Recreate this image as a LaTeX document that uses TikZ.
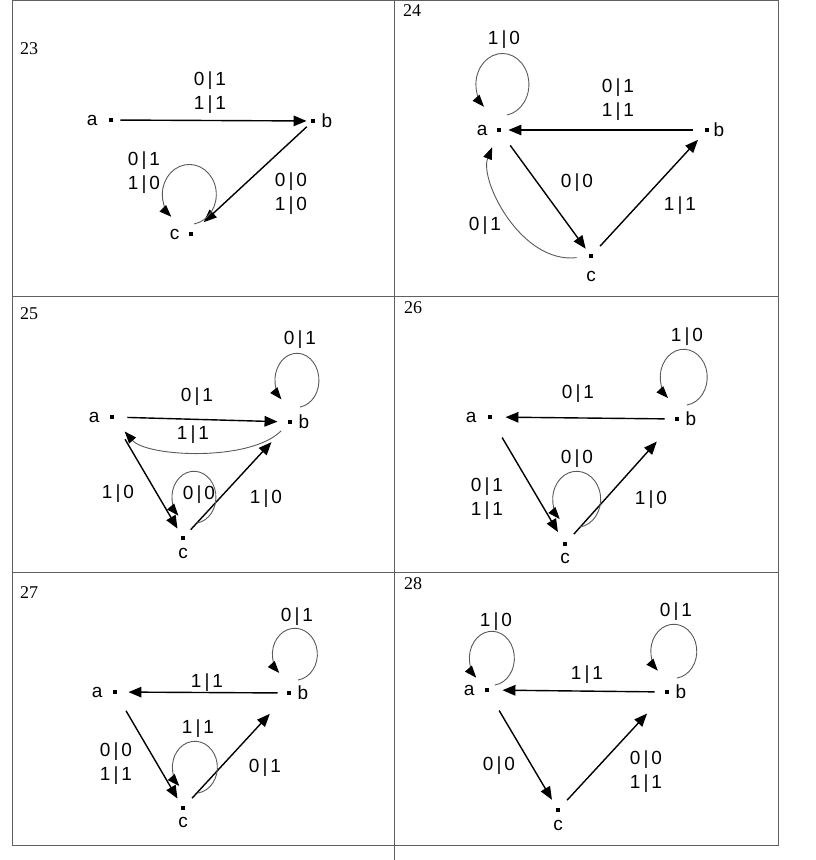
\documentclass[tikz,border=0pt]{standalone}
\usepackage{fontspec}
\setmainfont{Liberation Serif}
\newfontfamily\arialfont{Liberation Sans}[LetterSpace=16]
\newfontfamily\vertfont{Liberation Sans}
\usetikzlibrary{arrows.meta}

\tikzset{
	vert/.style={fill=black, minimum size=4.5pt, inner sep=0pt},
	vname/.style={font=\vertfont\fontsize{19}{21}\selectfont, inner sep=1pt},
	tlab/.style={font=\arialfont\fontsize{19}{24}\selectfont, align=center, inner sep=0pt},
	cellno/.style={font=\fontsize{18}{20}\selectfont, anchor=west, inner sep=0pt},
	trans/.style={line width=1.4pt, -{Triangle[length=13pt,width=10.5pt]}},
	thinarr/.style={gray!70!black, line width=0.9pt, -{Triangle[length=12pt,width=9pt,color=black]}},
	tabline/.style={gray!75!black, line width=0.9pt}
}

\begin{document}
\begin{tikzpicture}[x=1pt, y=-1pt]
	\useasboundingbox (0,0) rectangle (816,860);
	% table
	\draw[tabline] (12,0.5) rectangle (778,845);
	\draw[tabline] (394,0.5) -- (394,860);
	\draw[tabline] (12,296) -- (778,296);
	\draw[tabline] (12,572) -- (778,572);

	% 23
	\node[cellno] (n23) at (20,49) {23};
	\node[vert, label={[vname, label distance=10pt]left:a}] (a23) at (111,120) {};
	\node[vert, label={[vname, label distance=5pt]right:b}] (b23) at (313,121) {};
	\node[vert, label={[vname, label distance=8pt]left:c}] (c23) at (191,234) {};
	\draw[trans, shorten <=7pt, shorten >=4pt] (a23) -- (b23);
	\draw[trans, shorten <=5pt, shorten >=14pt] (b23) -- (c23);
	\draw[thinarr] ([shift={(3,-10)}]c23.center) arc[start angle=80, end angle=-228, x radius=27, y radius=30];
	\node[tlab] (l23ab) at (210,93) {0|1\\1|1};
	\node[tlab] (l23bc) at (291,194) {0|0\\1|0};
	\node[tlab] (l23cc) at (144,173) {0|1\\1|0};

	% 24
	\node[cellno] (n24) at (403,11) {24};
	\node[vert, label={[vname, label distance=8pt]left:a}] (a24) at (499,130) {};
	\node[vert, label={[vname, label distance=3pt]right:b}] (b24) at (707,130) {};
	\node[vert, label={[vname, label distance=12pt]below:c}] (c24) at (591,256) {};
	\draw[trans, shorten <=12pt, shorten >=7pt] (b24) -- (a24);
	\draw[trans, shorten <=16pt, shorten >=6pt] (a24) -- (c24);
	\draw[trans, shorten <=10pt, shorten >=10pt] (c24) -- (b24);
	\draw[thinarr, shorten <=12pt, shorten >=16pt] (c24) .. controls +(-70,8) and +(-20,50) .. (a24);
	\draw[thinarr] ([shift={(8,-15)}]a24.center) arc[start angle=80, end angle=-226, x radius=26.5, y radius=31];
	\node[tlab] (l24ba) at (618,100) {0|1\\1|1};
	\node[tlab] (l24ac) at (577,183) {0|0};
	\node[tlab] (l24cb) at (680,206) {1|1};
	\node[tlab] (l24ca) at (485,226) {0|1};
	\node[tlab] (l24aa) at (504,40) {1|0};

	% 25
	\node[cellno] (n25) at (20,314) {25};
	\node[vert, label={[vname, label distance=9pt]left:a}] (a25) at (112,417) {};
	\node[vert, label={[vname, label distance=5pt]right:b}] (b25) at (290,422) {};
	\node[vert, label={[vname, label distance=7pt]below:c}] (c25) at (183,538) {};
	\draw[trans, shorten <=13pt, shorten >=10pt] (a25) -- (b25);
	\draw[thinarr, shorten <=9pt, shorten >=16pt] (b25) .. controls +(-40,40) and +(35,40) .. (a25);
	\draw[trans, shorten <=23pt, shorten >=8pt] (a25) -- (c25);
	\draw[trans, shorten <=8pt, shorten >=24pt] (c25) -- (b25);
	\draw[thinarr] ([shift={(14,-15)}]c25.center) arc[start angle=82, end angle=-225, x radius=22, y radius=26];
	\draw[thinarr] ([shift={(10,-15)}]b25.center) arc[start angle=82, end angle=-225, x radius=22, y radius=27];
	\node[tlab] (l25ab) at (197,397) {0|1};
	\node[tlab] (l25ba) at (193,435) {1|1};
	\node[tlab] (l25ac) at (118,494) {1|0};
	\node[tlab] (l25cb) at (266,499) {1|0};
	\node[tlab] (l25cc) at (199,495) {0|0};
	\node[tlab] (l25bb) at (300,340) {0|1};

	% 26
	\node[cellno] (n26) at (404,308) {26};
	\node[vert, label={[vname, label distance=10pt]left:a}] (a26) at (490,417) {};
	\node[vert, label={[vname, label distance=5pt]right:b}] (b26) at (677,419) {};
	\node[vert, label={[vname, label distance=6pt]below:c}] (c26) at (565,544) {};
	\draw[trans, shorten <=10pt, shorten >=13pt] (b26) -- (a26);
	\draw[trans, shorten <=21pt, shorten >=11pt] (a26) -- (c26);
	\draw[trans, shorten <=10pt, shorten >=27pt] (c26) -- (b26);
	\draw[thinarr] ([shift={(15,-17)}]c26.center) arc[start angle=82, end angle=-225, x radius=24, y radius=28];
	\draw[thinarr] ([shift={(10,-14)}]b26.center) arc[start angle=82, end angle=-228, x radius=23.5, y radius=28];
	\node[tlab] (l26ba) at (578,394) {0|1};
	\node[tlab] (l26ac) at (487,499) {0|1\\1|1};
	\node[tlab] (l26cb) at (651,500) {1|0};
	\node[tlab] (l26cc) at (577,459) {0|0};
	\node[tlab] (l26bb) at (687,337) {1|0};

	% 27
	\node[cellno] (n27) at (20,593) {27};
	\node[vert, label={[vname, label distance=9pt]left:a}] (a27) at (115,692) {};
	\node[vert, label={[vname, label distance=5pt]right:b}] (b27) at (289,693) {};
	\node[vert, label={[vname, label distance=6pt]below:c}] (c27) at (183,808) {};
	\draw[trans, shorten <=9pt, shorten >=11pt] (b27) -- (a27);
	\draw[trans, shorten <=19pt, shorten >=8pt] (a27) -- (c27);
	\draw[trans, shorten <=10pt, shorten >=25pt] (c27) -- (b27);
	\draw[thinarr] ([shift={(15,-15)}]c27.center) arc[start angle=82, end angle=-226, x radius=22.5, y radius=26];
	\draw[thinarr] ([shift={(9,-13)}]b27.center) arc[start angle=82, end angle=-226, x radius=22.5, y radius=26];
	\node[tlab] (l27ba) at (207,683) {1|1};
	\node[tlab] (l27ac) at (116,764) {0|0\\1|1};
	\node[tlab] (l27cb) at (265,768) {0|1};
	\node[tlab] (l27cc) at (198,729) {1|1};
	\node[tlab] (l27bb) at (297,617) {0|1};

	% 28
	\node[cellno] (n28) at (404,584) {28};
	\node[vert, label={[vname, label distance=9pt]left:a}] (a28) at (487,690) {};
	\node[vert, label={[vname, label distance=5pt]right:b}] (b28) at (667,692) {};
	\node[vert, label={[vname, label distance=7pt]below:c}] (c28) at (558,810) {};
	\draw[trans, shorten <=10pt, shorten >=13pt] (b28) -- (a28);
	\draw[trans, shorten <=21pt, shorten >=9pt] (a28) -- (c28);
	\draw[trans, shorten <=10pt, shorten >=26pt] (c28) -- (b28);
	\draw[thinarr] ([shift={(8,-5)}]a28.center) arc[start angle=82, end angle=-226, x radius=22.5, y radius=27];
	\draw[thinarr] ([shift={(10,-14)}]b28.center) arc[start angle=82, end angle=-226, x radius=23, y radius=27];
	\node[tlab] (l28ba) at (587,675) {1|1};
	\node[tlab] (l28ac) at (499,766) {0|0};
	\node[tlab] (l28cb) at (646,772) {0|0\\1|1};
	\node[tlab] (l28aa) at (496,622) {1|0};
	\node[tlab] (l28bb) at (676,612) {0|1};
\end{tikzpicture}
\end{document}
